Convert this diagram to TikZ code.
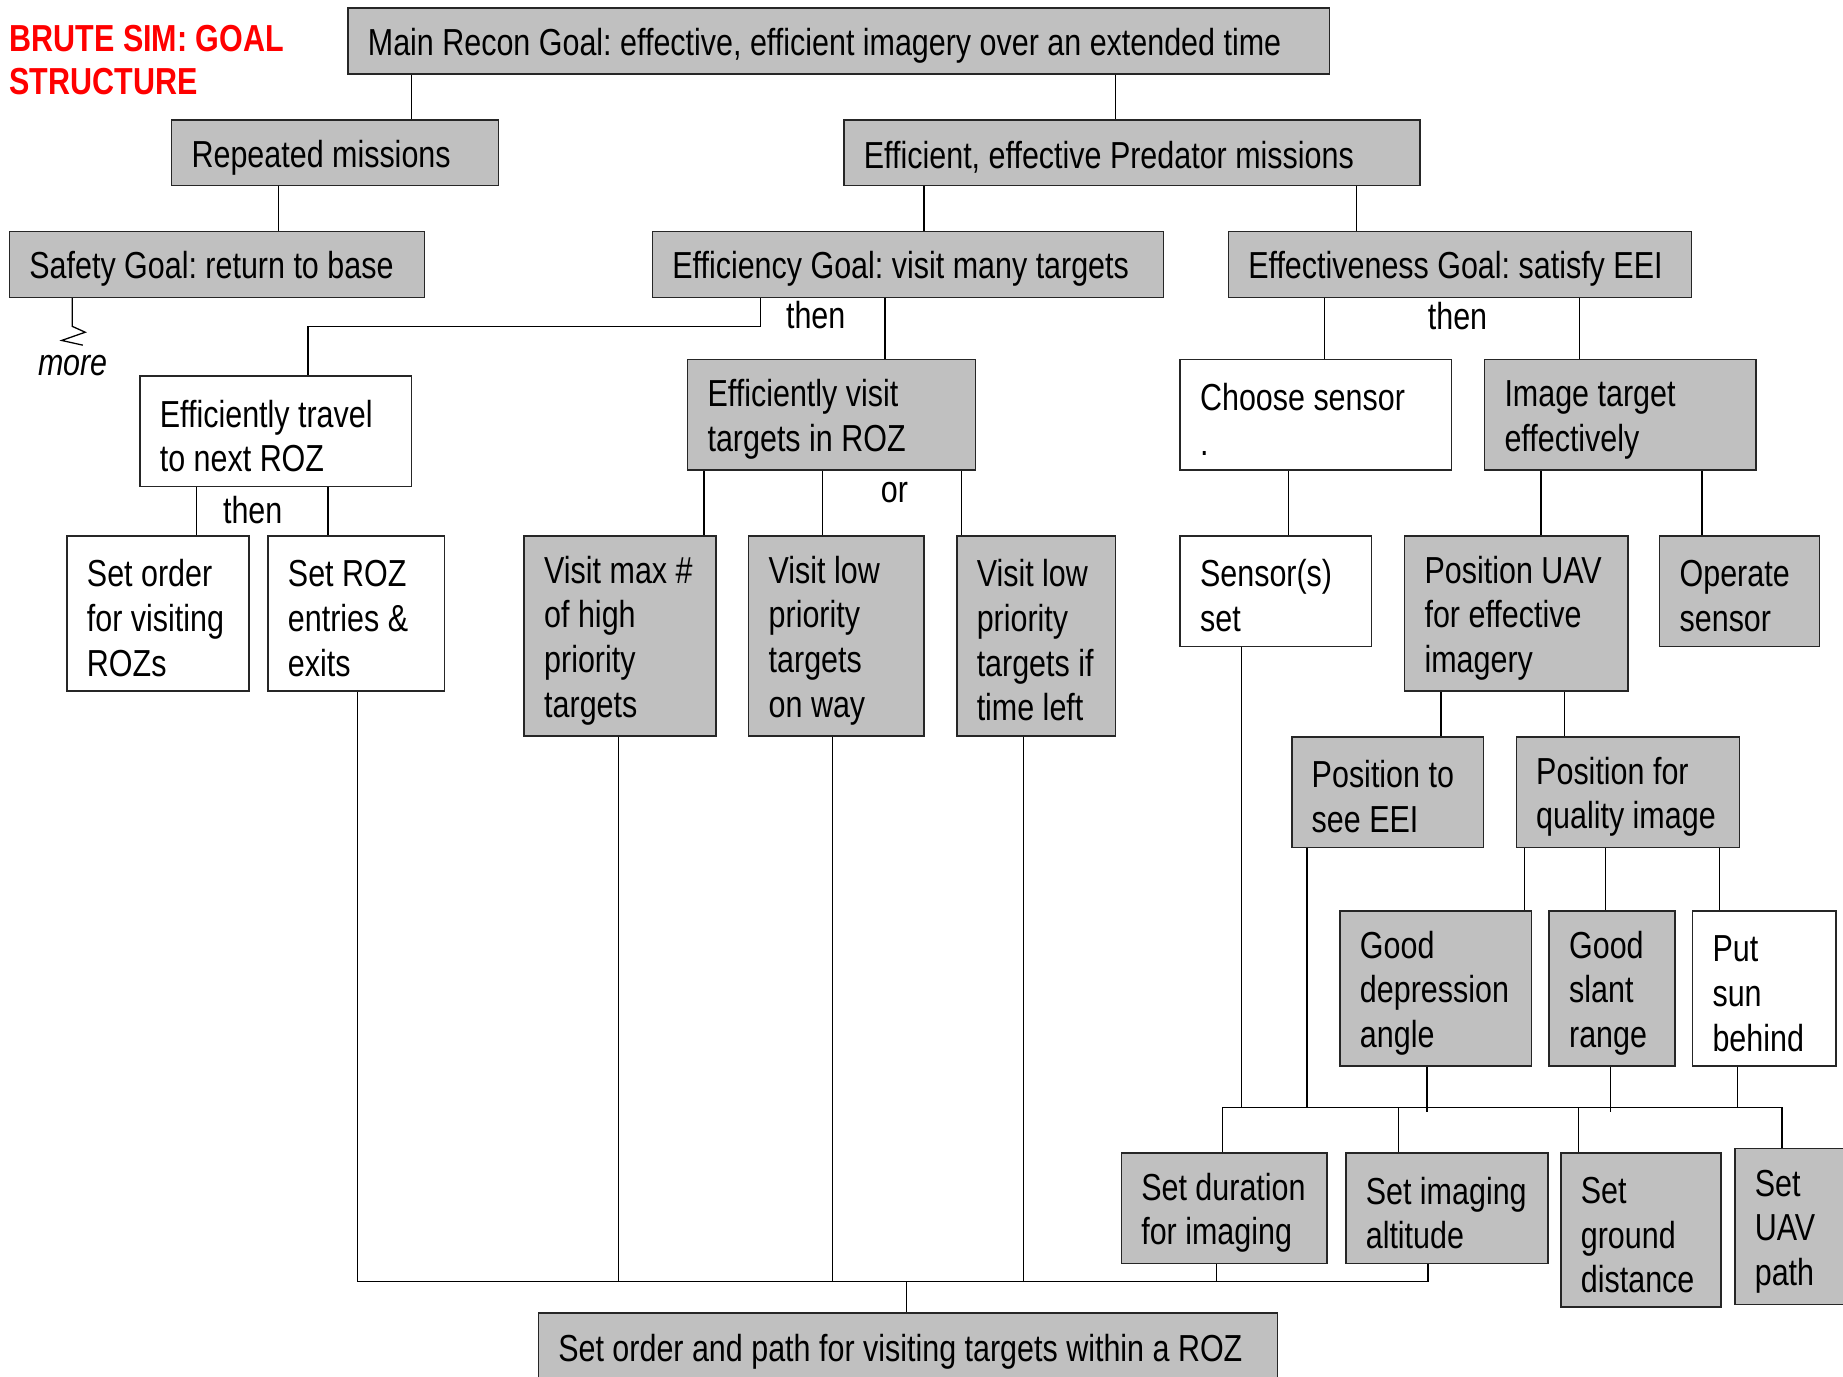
\documentclass[tikz,border=0pt]{standalone}
\usepackage{fontspec}
\setmainfont[FakeStretch=0.81]{Liberation Sans}
\usepackage{tikz}
\usetikzlibrary{positioning}

\definecolor{boxgray}{RGB}{192,192,192}
\definecolor{titlered}{RGB}{255,0,0}

\frenchspacing
\hyphenpenalty=10000
\exhyphenpenalty=10000

\tikzset{
	goal/.style={draw=black!85, line width=1.3pt, fill=boxgray, align=left,
		inner xsep=17pt, inner ysep=0pt, font=\fontsize{32}{38}\selectfont,
		execute at begin node={\spaceskip 7.2pt\relax\rule{0pt}{31pt}}},
	plain/.style={goal, fill=white},
	link/.style={line width=1.1pt},
	note/.style={inner sep=0pt, font=\fontsize{32}{38}\selectfont}
}

\begin{document}
\begin{tikzpicture}[x=1pt, y=-1pt]
		\useasboundingbox (0,0) rectangle (1568,1171);

		% title
		\node[note, anchor=west, align=left, text=titlered, font=\bfseries\fontsize{32}{37}\selectfont,
			execute at begin node={\spaceskip 7.2pt\relax}]
			(head) at (8,51) {BRUTE SIM: GOAL\\STRUCTURE};

		% upper levels
		\node[goal, text width=801pt, minimum height=56pt] (main) at (713.5,35) {Main Recon Goal: effective, efficient imagery over an extended time};
		\node[goal, text width=244pt, minimum height=56pt] (rep) at (285,130) {Repeated missions};
		\node[goal, text width=456pt, minimum height=56pt] (pred) at (963,130) {Efficient, effective Predator missions};
		\node[goal, text width=319pt, minimum height=56pt] (safe) at (184.5,225) {Safety Goal: return to base};
		\node[goal, text width=401pt, minimum height=56pt] (effic) at (772.5,225) {Efficiency Goal: visit many targets};
		\node[goal, text width=360pt, minimum height=56pt] (effect) at (1242,225) {Effectiveness Goal: satisfy EEI};

		% second levels
		\node[plain, text width=197pt, minimum height=94pt] (travel) at (234.5,367) {Efficiently travel\\to next ROZ};
		\node[goal, text width=211pt, minimum height=94pt] (visit) at (707.5,353) {Efficiently visit\\targets in ROZ};
		\node[plain, text width=197pt, minimum height=94pt] (choose) at (1119.5,353) {Choose sensor\\.};
		\node[goal, text width=197pt, minimum height=94pt] (image) at (1378.5,353) {Image target\\effectively};

		\node[plain, text width=121pt, minimum height=132pt] (order) at (134.5,522) {Set order\\for~visiting\\ROZs};
		\node[plain, text width=116pt, minimum height=132pt] (rozx) at (303,522) {Set ROZ\\entries~\&\\exits};
		\node[goal, text width=129pt, minimum height=170pt] (vmax) at (527.5,541) {Visit~max~\#\\of high\\priority\\targets};
		\node[goal, text width=115pt, minimum height=170pt] (vway) at (711.5,541) {Visit low\\priority\\targets\\on way};
		\node[goal, text width=101pt, minimum height=170pt] (vtime) at (881.5,541) {Visit~low\\priority\\targets~if\\time~left};
		\node[plain, text width=129pt, minimum height=94pt] (sset) at (1085.5,503) {Sensor(s)\\set};
		\node[goal, text width=156pt, minimum height=132pt] (posuav) at (1290,522) {Position~UAV\\for~effective\\imagery};
		\node[goal, text width=102pt, minimum height=94pt] (oper) at (1480,503) {Operate\\sensor};

		\node[goal, text width=129pt, minimum height=94pt] (poseei) at (1180.5,674) {Position~to\\see EEI};
		\node[goal, text width=156pt, minimum height=94pt] (posq) at (1385,674) {Position~for\\quality~image};

		\node[goal, text width=129pt, minimum height=132pt] (depr) at (1221.5,841) {Good\\depression\\angle};
		\node[goal, text width=73pt, minimum height=132pt] (slant) at (1371.5,841) {Good\\slant\\range};
		\node[plain, text width=88pt, minimum height=132pt] (sun) at (1501,841) {Put\\sun\\behind};

		% settings
		\node[goal, text width=141pt, minimum height=94pt] (dur) at (1041.5,1028) {Set~duration\\for~imaging};
		\node[goal, text width=138pt, minimum height=94pt] (alt) at (1231,1028) {Set~imaging\\altitude};
		\node[goal, text width=102pt, minimum height=131pt] (gnd) at (1396,1046.5) {Set\\ground\\distance};
		\node[goal, text width=80pt, minimum height=133pt] (path) at (1533,1043.5) {Set\\UAV\\path};
		\node[goal, text width=595pt, minimum height=58pt] (bottom) at (772.5,1146) {Set order and path for visiting targets within a ROZ};

		% words on the links
		\node[note] (then1) at (694,268) {then};
		\node[note] (then2) at (1240,269) {then};
		\node[note] (then3) at (215,434) {then};
		\node[note] (or) at (761,419) {or};
		\node[note, font=\itshape\fontsize{32}{38}\selectfont] (more) at (62,311) {more};

		% links
		\draw[link] ([xshift=65pt]rep.north) -- ([xshift=65pt]rep.north |- main.south);
		\draw[link] ([xshift=-14pt]pred.north) -- ([xshift=-14pt]pred.north |- main.south);
		\draw[link] ([xshift=52.5pt]safe.north) -- ([xshift=52.5pt]safe.north |- rep.south);
		\draw[link] ([xshift=13.5pt]effic.north) -- ([xshift=13.5pt]effic.north |- pred.south);
		\draw[link] ([xshift=-88pt]effect.north) -- ([xshift=-88pt]effect.north |- pred.south);
		\draw[link] ([xshift=-123pt]safe.south) -- ++(0,24) -- ++(11,5) -- ++(-20,7) -- ++(18,4);

		\draw[link] ([xshift=-125.5pt]effic.south) -- ++(0,24) -| ([xshift=27.5pt]travel.north);
		\draw[link] ([xshift=45.5pt]visit.north) -- ([xshift=45.5pt]visit.north |- effic.south);
		\draw[link] ([xshift=7.5pt]choose.north) -- ([xshift=7.5pt]choose.north |- effect.south);
		\draw[link] ([xshift=-34.5pt]image.north) -- ([xshift=-34.5pt]image.north |- effect.south);

		\draw[link] ([xshift=32.5pt]order.north) -- ([xshift=32.5pt]order.north |- travel.south);
		\draw[link] ([xshift=-24pt]rozx.north) -- ([xshift=-24pt]rozx.north |- travel.south);
		\draw[link] ([xshift=71.5pt]vmax.north) -- ([xshift=71.5pt]vmax.north |- visit.south);
		\draw[link] ([xshift=-11.5pt]vway.north) -- ([xshift=-11.5pt]vway.north |- visit.south);
		\draw[link] ([xshift=-63.5pt]vtime.north) -- ([xshift=-63.5pt]vtime.north |- visit.south);
		\draw[link] ([xshift=10.5pt]sset.north) -- ([xshift=10.5pt]sset.north |- choose.south);
		\draw[link] ([xshift=21pt]posuav.north) -- ([xshift=21pt]posuav.north |- image.south);
		\draw[link] ([xshift=-32pt]oper.north) -- ([xshift=-32pt]oper.north |- image.south);

		\draw[link] ([xshift=45.5pt]poseei.north) -- ([xshift=45.5pt]poseei.north |- posuav.south);
		\draw[link] ([xshift=-54pt]posq.north) -- ([xshift=-54pt]posq.north |- posuav.south);
		\draw[link] ([xshift=75.5pt]depr.north) -- ([xshift=75.5pt]depr.north |- posq.south);
		\draw[link] ([xshift=-5.5pt]slant.north) -- ([xshift=-5.5pt]slant.north |- posq.south);
		\draw[link] ([xshift=-38pt]sun.north) -- ([xshift=-38pt]sun.north |- posq.south);

		% upper bus
		\coordinate (hub) at (1278,942);
		\draw[link] ([xshift=-1.5pt]dur.north) |- (hub) -| ([xshift=-17pt]path.north);
		\draw[link] ([xshift=-41pt]alt.north) -- ([xshift=-41pt]alt.north |- hub);
		\draw[link] ([xshift=-53pt]gnd.north) -- ([xshift=-53pt]gnd.north |- hub);
		\draw[link] ([xshift=-29.5pt]sset.south) -- ([xshift=-29.5pt]sset.south |- hub);
		\draw[link] ([xshift=-68.5pt]poseei.south) -- ([xshift=-68.5pt]poseei.south |- hub);
		\draw[link] ([xshift=-7.5pt]depr.south) -- ++(0,38);
		\draw[link] ([xshift=-1.5pt]slant.south) -- ++(0,38);
		\draw[link] ([xshift=-23pt]sun.south) -- ([xshift=-23pt]sun.south |- hub);

		% lower bus
		\coordinate (joint) at (771,1090);
		\draw[link] ([xshift=1pt]rozx.south) |- (joint) -| ([xshift=-16pt]alt.south);
		\draw[link] ([xshift=-1.5pt]vmax.south) -- ([xshift=-1.5pt]vmax.south |- joint);
		\draw[link] ([xshift=-3.5pt]vway.south) -- ([xshift=-3.5pt]vway.south |- joint);
		\draw[link] ([xshift=-10.5pt]vtime.south) -- ([xshift=-10.5pt]vtime.south |- joint);
		\draw[link] ([xshift=-6.5pt]dur.south) -- ([xshift=-6.5pt]dur.south |- joint);
		\draw[link] (joint) -- (joint |- bottom.north);
	\end{tikzpicture}
\end{document}
